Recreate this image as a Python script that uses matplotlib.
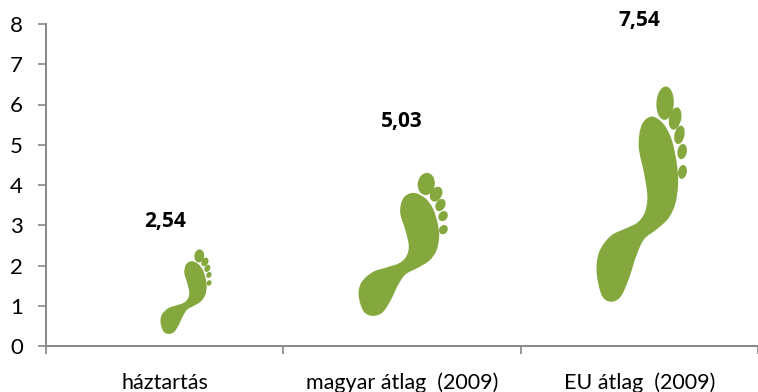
#!/usr/bin/env python3
"""Footprint pictogram column chart: household vs Hungarian and EU average."""
import matplotlib
matplotlib.use("Agg")
import matplotlib.pyplot as plt
from matplotlib.patches import PathPatch
from matplotlib.path import Path
from matplotlib.transforms import Affine2D
import numpy as np

categories = ["háztartás", "magyar átlag  (2009)", "EU átlag  (2009)"]
values = [2.54, 5.03, 7.54]
value_labels = ["2,54", "5,03", "7,54"]
y_ticks = [0, 1, 2, 3, 4, 5, 6, 7, 8]

GREEN, AXIS = "#84a83e", "#868686"
FONT = "Lato"

# foot drawing, in its own pixel space (y down)
SOLE = [(335, 350), (370, 372), (395, 420), (410, 490), (414, 550), (406, 610),
        (385, 655), (350, 688), (312, 718), (288, 770), (267, 835), (242, 890),
        (212, 905), (185, 885), (170, 815), (178, 755), (212, 708), (256, 686),
        (292, 668), (314, 638), (322, 590), (312, 520), (296, 440), (305, 375)]
TOES = [(375, 310, 52, 100, 3), (405, 356, 36, 68, 12), (418, 405, 30, 56, 12),
        (426, 455, 28, 46, 10), (427, 516, 26, 42, 10)]
X0, X1, Y0, Y1 = 170, 440, 905, 260

# picture placement per category: centre offset, width (in categories),
# bottom and top as a fraction of the value
PLACE = [(0.09, 0.215, 0.118, 0.945), (0.005, 0.375, 0.149, 0.855), (0.01, 0.38, 0.146, 0.855)]


def smooth_closed(pts):
    # closed Catmull-Rom through the outline points, as cubic beziers
    p = np.array(pts, float)
    n = len(p)
    verts = [p[0]]
    codes = [Path.MOVETO]
    for i in range(n):
        a, b, c, d = p[i - 1], p[i], p[(i + 1) % n], p[(i + 2) % n]
        verts += [b + (c - a) / 6, c - (d - b) / 6, c]
        codes += [Path.CURVE4] * 3
    return Path(verts, codes)


def foot_paths():
    paths = [smooth_closed(SOLE)]
    for cx, cy, w, h, ang in TOES:
        tr = Affine2D().scale(w / 2, h / 2).rotate_deg(ang).translate(cx, cy)
        paths.append(Path.unit_circle().transformed(tr))
    return paths


def draw_foot(ax, xc, v, place):
    off, width, lo, hi = place
    sx = width / (X1 - X0)
    sy = (hi - lo) * v / (Y0 - Y1)
    tr = Affine2D().translate(-(X0 + X1) / 2, -Y0).scale(sx, -sy).translate(xc + off, lo * v)
    for p in foot_paths():
        ax.add_patch(PathPatch(p.transformed(tr), fc=GREEN, ec="none"))


fig = plt.figure(figsize=(7.58, 3.92), dpi=100)
ax = fig.add_axes([46 / 758, 1 - 346 / 392, 712 / 758, 322 / 392])
x = np.arange(len(categories))
for xi, v, lab, place in zip(x, values, value_labels, PLACE):
    draw_foot(ax, xi, v, place)
    ax.annotate(lab, (xi, v), xytext=(0, 22), textcoords="offset pixels", ha="center", va="center",
                fontsize=15, weight="bold", family="Open Sans", color="black", annotation_clip=False)
    ax.annotate(categories[xi], (xi, 0), xytext=(0, -37), textcoords="offset pixels", ha="center",
                va="center", fontsize=15.5, family=FONT, color="black", annotation_clip=False)

ax.set_xlim(-0.5, 2.5)
ax.set_ylim(0, 8)
ax.set_yticks(y_ticks)
ax.set_xticks([-0.5, 0.5, 1.5, 2.5])
ax.set_xticklabels([])
ax.tick_params(axis="both", color=AXIS, width=1.2, length=5.5)
ax.tick_params(axis="y", labelsize=16, pad=11)
for lbl in ax.get_yticklabels():
    lbl.set_family(FONT)
for s in ("top", "right"):
    ax.spines[s].set_visible(False)
for s in ("left", "bottom"):
    ax.spines[s].set_color(AXIS)
    ax.spines[s].set_linewidth(1.4)

fig.savefig("out.png", dpi=100)
